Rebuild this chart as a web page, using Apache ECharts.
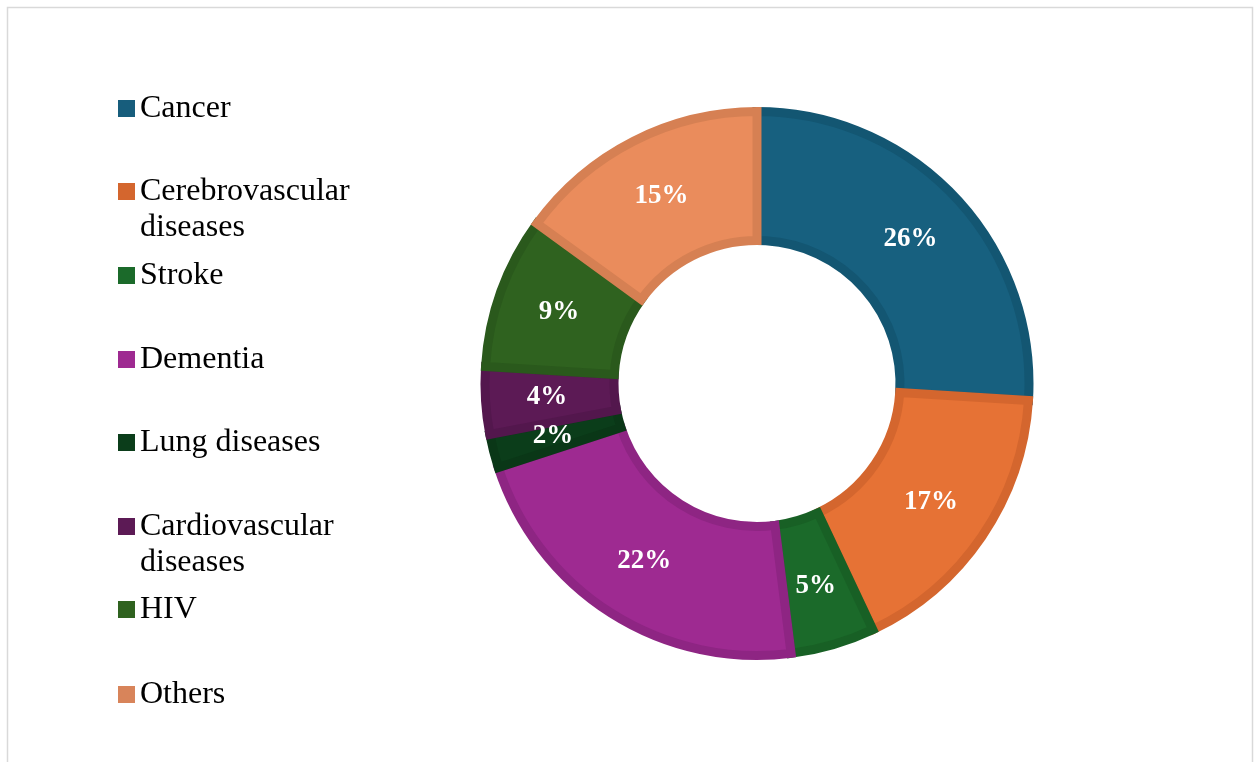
<!DOCTYPE html>
<html>
<head>
<meta charset="utf-8">
<title>Causes of death</title>
<script src="https://cdn.jsdelivr.net/npm/echarts@6/dist/echarts.min.js"></script>
<style>
  html, body { margin: 0; padding: 0; background: #ffffff; }
  #chart { width: 1258px; height: 762px; }
</style>
</head>
<body>
<div id="chart"></div>
<script>
// Share of deaths by cause (percent), clockwise from 12 o'clock
const categories = ['Cancer', 'Cerebrovascular diseases', 'Stroke', 'Dementia',
  'Lung diseases', 'Cardiovascular diseases', 'HIV', 'Others'];
const shares = [26, 17, 5, 22, 2, 4, 9, 15];

// Legend line breaks for the long names (second line hangs below the first)
const legendLines = {
  'Cerebrovascular diseases': ['Cerebrovascular', 'diseases'],
  'Cardiovascular diseases': ['Cardiovascular', 'diseases']
};

const fills   = ['#17607f', '#e67235', '#1b6a2a', '#9e2a91', '#0b3d1a', '#5c1a55', '#2f621f', '#ea8c5c'];
const borders = ['#135672', '#d4662e', '#186025', '#8e2583', '#0a3717', '#53174d', '#2a591c', '#d68053'];
const swatches = ['#175d7c', '#d4662e', '#1b6a2a', '#9e2a91', '#0b3d1a', '#5c1a55', '#2f621f', '#d8845a'];

// vertical centre of each legend swatch
const legendCenters = [108.5, 191.5, 275.5, 359.5, 442.5, 526.5, 609.5, 694.5];
const FONT = '"Liberation Serif", "Times New Roman", serif';
const LINE = 36;

const chart = echarts.init(document.getElementById('chart'), null, { renderer: 'canvas' });

const legends = categories.map((name, i) => {
  const lines = legendLines[name];
  // a blank first line keeps the swatch level with the first text line
  const text = lines ? ' \n' + lines.join('\n') : name;
  const nLines = lines ? 3 : 1;
  return {
    orient: 'vertical',
    left: 118,
    top: legendCenters[i] - (nLines * LINE) / 2,
    padding: 0,
    itemWidth: 17,
    itemHeight: 17,
    icon: 'rect',
    selectedMode: false,
    data: [{ name: name, itemStyle: { color: swatches[i], borderWidth: 0 } }],
    itemStyle: { borderWidth: 0 },
    formatter: () => text,
    textStyle: {
      fontFamily: FONT,
      fontSize: 32,
      color: '#000000',
      lineHeight: LINE
    }
  };
});

chart.setOption({
  animation: false,
  backgroundColor: '#ffffff',
  graphic: [{
    type: 'rect',
    shape: { x: 7.5, y: 7.5, width: 1245, height: 770 },
    style: { fill: 'none', stroke: '#d9d9d9', lineWidth: 1.5 },
    silent: true,
    z: -10
  }],
  legend: legends,
  series: [{
    type: 'pie',
    center: [757, 383.5],
    radius: [143, 272],
    startAngle: 90,
    clockwise: true,
    avoidLabelOverlap: false,
    itemStyle: { borderWidth: 9, borderJoin: 'miter' },
    label: {
      show: true,
      position: 'inside',
      formatter: p => p.value + '%',
      color: '#ffffff',
      fontFamily: FONT,
      fontWeight: 'bold',
      fontSize: 27
    },
    labelLine: { show: false },
    emphasis: { disabled: true },
    data: categories.map((name, i) => ({
      name: name,
      value: shares[i],
      itemStyle: { color: fills[i], borderColor: borders[i] }
    }))
  }]
});
</script>
</body>
</html>
